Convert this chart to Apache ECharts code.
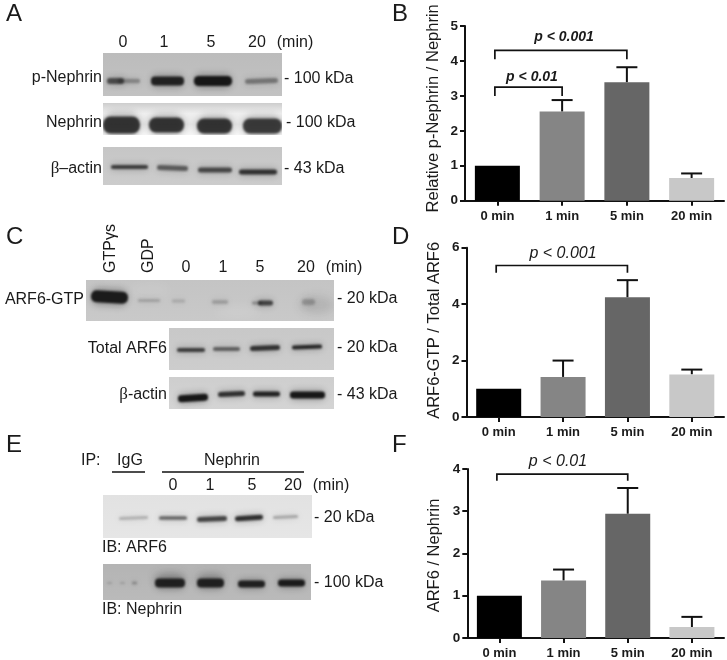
<!DOCTYPE html>
<html><head><meta charset="utf-8">
<style>html,body{margin:0;padding:0;background:#fff}#c{width:727px;height:660px}</style>
<script src="https://cdn.jsdelivr.net/npm/echarts@6/dist/echarts.min.js"></script>
</head><body><div id="c"></div>
<script>
const categories = ['0 min','1 min','5 min','20 min'];
const barColors = ['#000000','#858585','#666666','#c8c8c8'];

const valuesB = [1, 2.55, 3.39, 0.65];
const upperB  = [null, 2.88, 3.82, 0.78];
const valuesD = [1, 1.42, 4.24, 1.51];
const upperD  = [null, 2.0, 4.85, 1.68];
const valuesF = [1, 1.36, 2.94, 0.26];
const upperF  = [null, 1.62, 3.55, 0.50];

// [from category, to category, bracket level, left foot, right foot]
const bracketsB = [[0,2,4.30,4.05,4.05],[0,1,3.25,3.0,3.0]];
const bracketsD = [[0,2,5.37,5.11,5.11]];
const bracketsF = [[0,2,3.88,3.72,3.72]];

const SANS = '"Liberation Sans", Arial, sans-serif';

const panels = [
  {name:'B', left:465, width:259, top:26,    height:174.7, max:5, interval:1, values:valuesB, upper:upperB, brackets:bracketsB, yName:'Relative p-Nephrin / Nephrin', gap:23, pad:[0,0,0,10]},
  {name:'D', left:466.5, width:257.5, top:247.7, height:169.3, max:6, interval:2, values:valuesD, upper:upperD, brackets:bracketsD, yName:'ARF6-GTP / Total ARF6', gap:24, pad:[0,0,0,4]},
  {name:'F', left:467.3, width:256.7, top:469,   height:169.3, max:4, interval:1, values:valuesF, upper:upperF, brackets:bracketsF, yName:'ARF6 / Nephrin', gap:24, pad:[0,4,0,0]}
];

// Western-blot panels: [x0,y0,x1,y1], background stops, soft stains, bands [x0,x1,yc,height,alpha,tilt]
const blots = [
 {box:[103,53,282,96], bg:['#bcbcbc','#c2c2c2'], bands:[[107,124,81,6,.62,0],[118,140,81,4.5,.3,0],[151,184,81,9,.88,0],[194,232,81,10,.95,0],[245,278,81,5,.38,-1]], stains:[]},
 {box:[103,103,282,135], bg:['#cdcdcd','#efefef','#e4e4e4','#f6f6f6'], bands:[[103,140,125,17,.8,0],[149,184,125,15,.8,0],[197,232,126,15,.8,0],[243,282,126,15,.76,0]], stains:[]},
 {box:[103,147,282,185], bg:['#c6c6c6','#cccccc'], bands:[[111,148,167,4,.72,0],[157,188,168,5,.55,1],[198,232,170,5,.66,0],[239,277,172,5,.78,0]], stains:[]},
 {box:[86,280,334,321], bg:['#c4c4c4','#c9c9c9'], bands:[[91,128,297,12,.92,2],[138,160,300.5,3,.18,0],[172,185,301,3,.14,0],[212,228,302,4,.2,0],[252,262,303,3,.3,0],[258,273,303,5,.68,0],[302,315,302,6,.22,0]], stains:[[300,305,334,18,.12],[215,312,260,12,-.1],[130,290,170,14,-.08]]},
 {box:[169,328,334,370], bg:['#c8c8c8','#cdcdcd'], bands:[[177,205,350,4,.72,0],[213,240,349,4,.52,0],[250,280,348,5,.78,-1],[292,322,347,4,.85,-1]], stains:[]},
 {box:[169,377,334,409], bg:['#cecece','#d4d4d4'], bands:[[178,208,398,7,.95,-2],[218,245,394,5,.8,-1],[253,280,394,5,.88,0],[290,325,395,7,.95,0]], stains:[]},
 {box:[103,495,312,538], bg:['#e2e2e2','#e6e6e6'], bands:[[119,148,518,3,.22,-1],[159,187,518,3.5,.55,0],[197,227,519,5,.7,-1],[235,263,518,5,.82,-2],[273,298,517,3,.26,-1]], stains:[]},
 {box:[103,564,311,600], bg:['#b4b4b4','#bababa'], bands:[[107,112,583,2,.15,0],[120,125,583,2,.15,0],[132,137,583,3,.25,0],[155,185,583,9,.88,0],[197,224,583,9,.88,0],[238,265,584,7,.88,0],[278,305,583,7,.92,0]], stains:[[155,578,185,10,.25],[197,578,224,10,.2]]}
];

// Text labels: [text, x, y, align]
const labels = [
 ['0',123,43,'center'],['1',164,43,'center'],['5',211,43,'center'],['20',257,43,'center'],['(min)',295,43,'center'],
 ['p-Nephrin',102,78,'right'],['Nephrin',102,123,'right'],
 ['- 100 kDa',284,79,'left'],['- 100 kDa',286,123,'left'],['- 43 kDa',284,169,'left'],
 ['0',186,268,'center'],['1',223,268,'center'],['5',260,268,'center'],['20',306,268,'center'],['(min)',344,268,'center'],
 ['ARF6-GTP',84,300,'right'],['Total ARF6',167,349,'right'],
 ['- 20 kDa',337,299,'left'],['- 20 kDa',337,348,'left'],['- 43 kDa',337,395,'left'],
 ['IP:',81,461,'left'],['IgG',130,461,'center'],['Nephrin',232,461,'center'],
 ['0',173,486,'center'],['1',210,486,'center'],['5',252,486,'center'],['20',293,486,'center'],['(min)',331,486,'center'],
 ['- 20 kDa',314,518,'left'],['IB: ARF6',102,548,'left'],
 ['- 100 kDa',314,583,'left'],['IB: Nephrin',102,610,'left']
];
const betaLabels = [['–actin',102,169],['-actin',167,395]];
const rotated = [['GTPγs',111,273],['GDP',149,273]];
const letters = [['A',6,14],['B',392,14],['C',6,237],['D',392,237],['E',6,445],['F',392,445]];
const pLabels = [
 ['p < 0.001',564,37,'italic bold 14px '],['p < 0.01',532,77,'italic bold 14px '],
 ['p < 0.001',563,254,'italic 16px '],['p < 0.01',558,462,'italic 16px ']
];
const rules = [[112,145,472],[162,304,472]];

function blotCanvas(b){
  const [x0,y0,x1,y1]=b.box, c=document.createElement('canvas');
  c.width=x1-x0; c.height=y1-y0;
  const g=c.getContext('2d');
  const lg=g.createLinearGradient(0,0,0,c.height);
  b.bg.forEach((s,i)=>lg.addColorStop(i/(b.bg.length-1),s));
  g.fillStyle=lg; g.fillRect(0,0,c.width,c.height);
  g.filter='blur(5px)';
  b.stains.forEach(s=>{
    g.fillStyle=s[4]>=0?`rgba(40,40,40,${s[4]})`:`rgba(255,255,255,${-s[4]})`;
    g.beginPath(); g.ellipse((s[0]+s[2])/2-x0,s[1]-y0,(s[2]-s[0])/2,s[3]/2,0,0,7); g.fill();
  });
  const band=(a,e,yc,h,al,t)=>{
    g.save();
    g.translate((a+e)/2-x0,yc-y0); g.rotate(Math.atan2(t,e-a));
    g.fillStyle=`rgba(16,16,16,${al})`;
    g.beginPath(); g.roundRect(-(e-a)/2,-h/2,e-a,h,h/2.2); g.fill();
    g.restore();
  };
  g.filter='blur(3px)';
  b.bands.forEach(([a,e,yc,h,al,t])=>band(a,e,yc,h*1.5,al*.3,t));
  g.filter='blur(1.2px)';
  b.bands.forEach(([a,e,yc,h,al,t])=>band(a,e,yc,h,al,t));
  return c;
}

const graphics=[];
blots.forEach(b=>graphics.push({type:'image',x:b.box[0],y:b.box[1],silent:true,
  style:{image:blotCanvas(b),width:b.box[2]-b.box[0],height:b.box[3]-b.box[1]}}));
const txt=(t,x,y,al,font,rot)=>({type:'text',x,y,rotation:rot||0,silent:true,
  style:{text:t,x:0,y:0,align:al,verticalAlign:'middle',font:font,fill:'#1a1a1a'}});
labels.forEach(l=>graphics.push(txt(l[0],l[1],l[2],l[3],'16px '+SANS)));
betaLabels.forEach(l=>{
  graphics.push({type:'text',x:l[1],y:l[2],silent:true,style:{
    text:'{b|β}{a|'+l[0]+'}',x:0,y:0,align:'right',verticalAlign:'middle',
    rich:{a:{font:'16px '+SANS,fill:'#1a1a1a'},b:{font:'17px "Liberation Serif", serif',fill:'#1a1a1a'}}}});
});
rotated.forEach(l=>graphics.push(txt(l[0],l[1],l[2],'left','16px '+SANS,Math.PI/2)));
letters.forEach(l=>graphics.push(txt(l[0],l[1],l[2],'left','24px '+SANS)));
pLabels.forEach(l=>graphics.push(txt(l[0],l[1],l[2],'center',l[3]+SANS)));
rules.forEach(r=>graphics.push({type:'line',silent:true,shape:{x1:r[0],y1:r[2],x2:r[1],y2:r[2]},style:{stroke:'#111',lineWidth:1.5}}));

const grids=[],xAxes=[],yAxes=[],series=[];
panels.forEach((p,i)=>{
  grids.push({left:p.left,width:p.width,top:p.top,height:p.height});
  xAxes.push({type:'category',gridIndex:i,data:categories,
    axisLine:{show:true,lineStyle:{color:'#111',width:2}},
    axisTick:{show:true,alignWithLabel:true,length:5,lineStyle:{color:'#111',width:2}},
    axisLabel:{show:true,color:'#1a1a1a',fontWeight:'bold',fontSize:13,fontFamily:SANS,margin:9,interval:0}});
  yAxes.push({type:'value',gridIndex:i,min:0,max:p.max,interval:p.interval,
    name:p.yName,nameLocation:'middle',nameGap:p.gap,
    nameTextStyle:{color:'#1a1a1a',fontSize:16.5,fontFamily:SANS,padding:p.pad},
    splitLine:{show:false},
    axisLine:{show:true,onZero:false,lineStyle:{color:'#111',width:2}},
    axisTick:{show:true,length:5,lineStyle:{color:'#111',width:2}},
    axisLabel:{color:'#1a1a1a',fontWeight:'bold',fontSize:13.5,fontFamily:SANS,margin:7}});
  series.push({type:'bar',xAxisIndex:i,yAxisIndex:i,barWidth:45,silent:true,animation:false,
    data:p.values.map((v,k)=>({value:v,itemStyle:{color:barColors[k]}}))});
  series.push({type:'custom',xAxisIndex:i,yAxisIndex:i,silent:true,animation:false,z:1,
    data:p.upper.map((u,k)=>[k,p.values[k],u==null?p.values[k]:u,u==null?0:1]),
    encode:{x:0,y:[1,2]},
    renderItem(params,api){
      if(!api.value(3)) return {type:'group',children:[]};
      const a=api.coord([api.value(0),api.value(1)]),b=api.coord([api.value(0),api.value(2)]);
      const st={stroke:'#111',lineWidth:2};
      return {type:'group',children:[
        {type:'line',shape:{x1:a[0],y1:a[1],x2:b[0],y2:b[1]},style:st},
        {type:'line',shape:{x1:b[0]-10.5,y1:b[1],x2:b[0]+10.5,y2:b[1]},style:st}]};
    }});
  series.push({type:'custom',xAxisIndex:i,yAxisIndex:i,silent:true,animation:false,z:3,
    data:p.brackets,encode:{x:[0,1],y:[2,3,4]},clip:false,
    renderItem(params,api){
      const l=api.coord([api.value(0),api.value(2)]),r=api.coord([api.value(1),api.value(2)]);
      const fl=api.coord([api.value(0),api.value(3)]),fr=api.coord([api.value(1),api.value(4)]);
      return {type:'polyline',shape:{points:[[l[0]-2.5,fl[1]],[l[0]-2.5,l[1]],[r[0],r[1]],[r[0],fr[1]]]},
        style:{stroke:'#111',lineWidth:1.7,fill:null}};
    }});
});

const chart=echarts.init(document.getElementById('c'),null,{renderer:'canvas',width:727,height:660});
chart.setOption({animation:false,backgroundColor:'#fff',grid:grids,xAxis:xAxes,yAxis:yAxes,series:series,graphic:{elements:graphics}});
</script></body></html>
